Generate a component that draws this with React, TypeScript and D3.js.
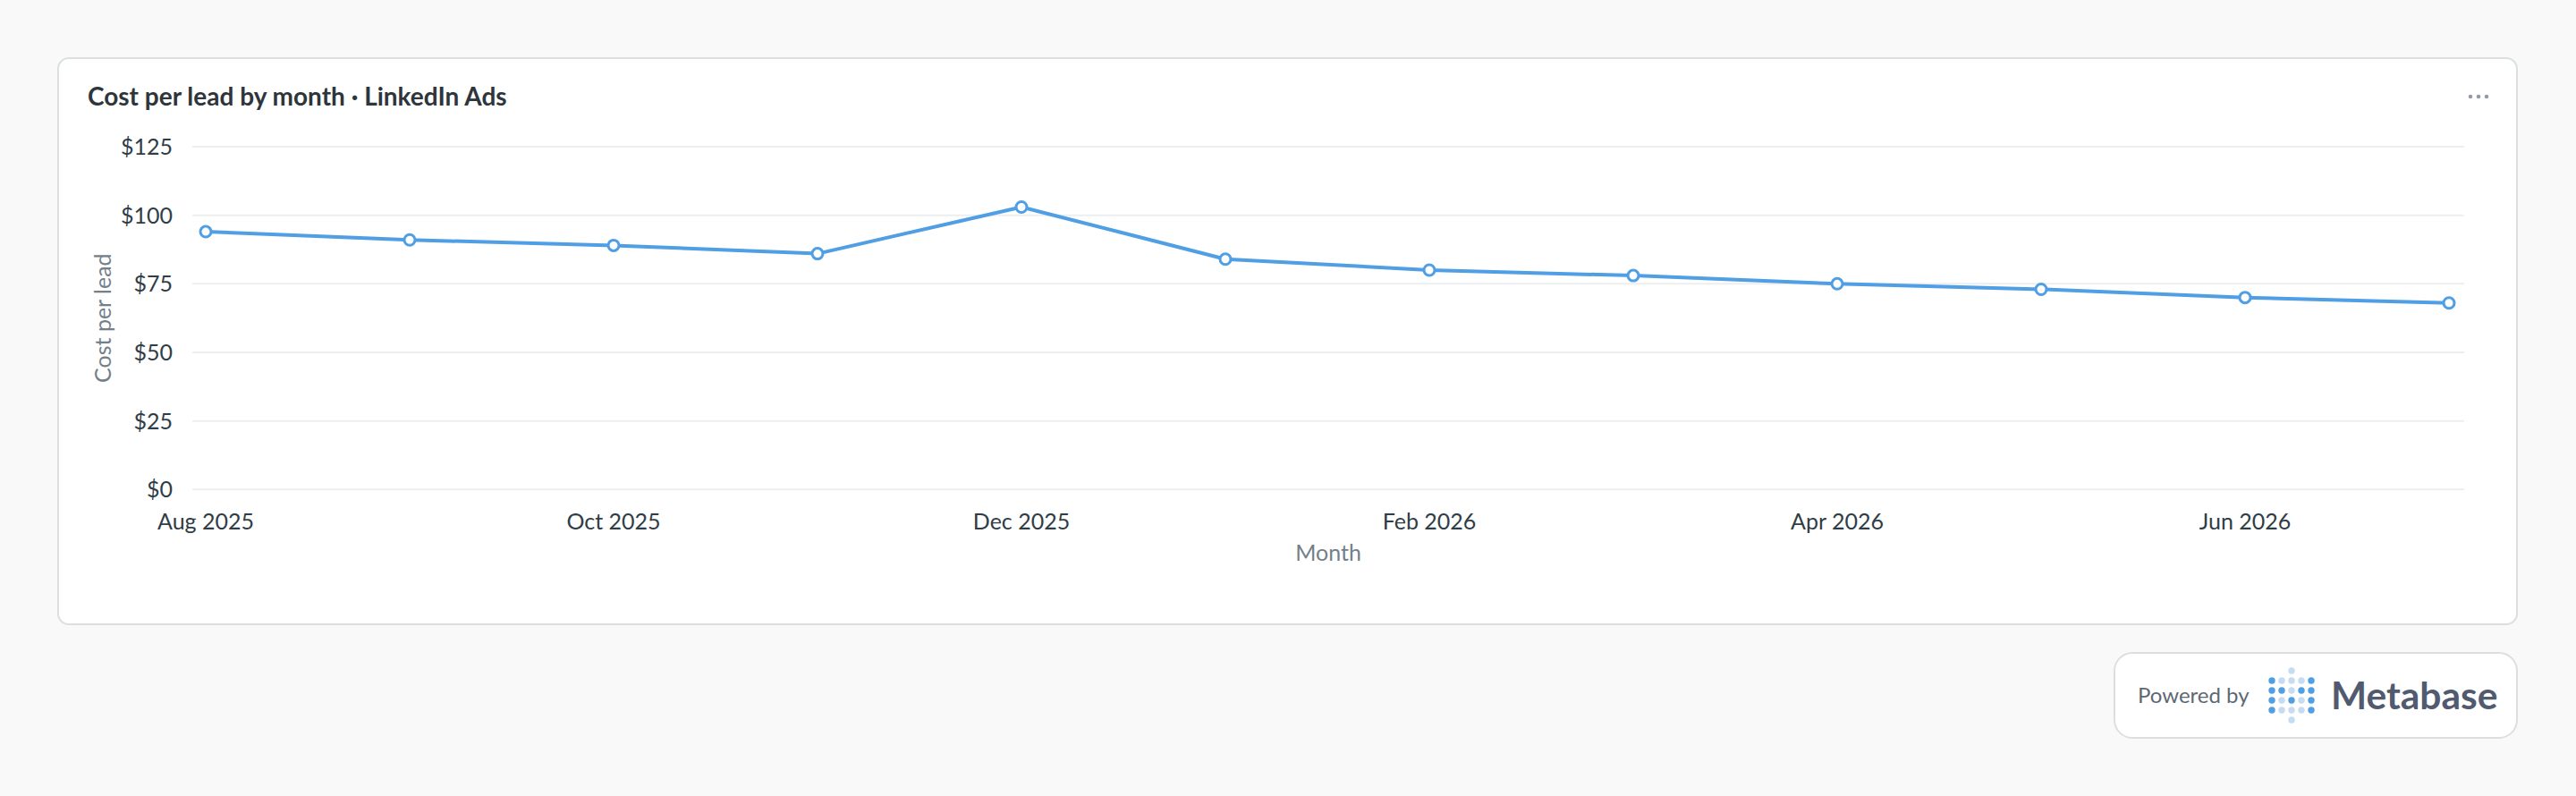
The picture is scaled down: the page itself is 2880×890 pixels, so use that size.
import React, { useRef, useEffect } from 'react';
import * as d3 from 'd3';

// Monthly cost per lead, LinkedIn Ads
const months = [
  'Aug 2025', 'Sep 2025', 'Oct 2025', 'Nov 2025', 'Dec 2025', 'Jan 2026',
  'Feb 2026', 'Mar 2026', 'Apr 2026', 'May 2026', 'Jun 2026', 'Jul 2026',
];
const costPerLead = [94, 91, 89, 86, 103, 84, 80, 78, 75, 73, 70, 68];
const xTickLabels = ['Aug 2025', 'Oct 2025', 'Dec 2025', 'Feb 2026', 'Apr 2026', 'Jun 2026'];
const yTickValues = [0, 25, 50, 75, 100, 125];

// Metabase logo dot grid: d = dark, l = light, . = empty
const logoRows = ['..l..', 'dllld', 'ddldd', 'dldld', 'dllld', '..l..'];

const FONT = 'Lato, "Noto Sans", sans-serif';
const BLUE = '#509EE3';

const App: React.FC = () => {
  const svgRef = useRef<SVGSVGElement>(null);

  useEffect(() => {
    if (!svgRef.current) return;
    const svg = d3.select(svgRef.current);
    svg.selectAll('*').remove();

    const width = 2880;
    const height = 890;
    const plot = { left: 215, right: 2755, top: 164, bottom: 547.3 };

    svg.append('rect').attr('width', width).attr('height', height).attr('fill', '#F9F9F9');

    // Card
    svg
      .append('rect')
      .attr('x', 65)
      .attr('y', 65)
      .attr('width', 2749)
      .attr('height', 633)
      .attr('rx', 12)
      .attr('fill', '#ffffff')
      .attr('stroke', '#DCDFE0')
      .attr('stroke-width', 2);

    svg
      .append('text')
      .attr('x', 98)
      .attr('y', 118)
      .attr('fill', '#2E353B')
      .style('font-family', FONT)
      .style('font-weight', 700)
      .style('font-size', '28px')
      .text('Cost per lead by month · LinkedIn Ads');

    // "more" dots
    [2762, 2771, 2780].forEach((cx) => {
      svg.append('circle').attr('cx', cx).attr('cy', 108).attr('r', 2.3).attr('fill', '#949AAB');
    });

    // Scales
    const xScale = d3.scalePoint<string>().domain(months).range([230, 2738]);
    const yScale = d3.scaleLinear().domain([0, 125]).range([plot.bottom, plot.top]);

    const g = svg.append('g');

    // Grid lines + y tick labels
    yTickValues.forEach((v) => {
      const y = yScale(v);
      g.append('line')
        .attr('x1', plot.left)
        .attr('x2', plot.right)
        .attr('y1', y)
        .attr('y2', y)
        .attr('stroke', '#EDEEF0')
        .attr('stroke-width', 2);
      g.append('text')
        .attr('x', 193)
        .attr('y', y)
        .attr('dy', '0.36em')
        .attr('text-anchor', 'end')
        .attr('fill', '#303D46')
        .style('font-family', FONT)
        .style('font-size', '25px')
        .text(d3.format('$,')(v));
    });

    // X tick labels
    xTickLabels.forEach((m) => {
      g.append('text')
        .attr('x', xScale(m)!)
        .attr('y', 592)
        .attr('text-anchor', 'middle')
        .attr('fill', '#303D46')
        .style('font-family', FONT)
        .style('font-size', '25px')
        .text(m);
    });

    // Axis titles
    g.append('text')
      .attr('transform', `translate(124,${(plot.top + plot.bottom) / 2}) rotate(-90)`)
      .attr('text-anchor', 'middle')
      .attr('fill', '#737F89')
      .style('font-family', FONT)
      .style('font-size', '25px')
      .text('Cost per lead');

    g.append('text')
      .attr('x', (plot.left + plot.right) / 2)
      .attr('y', 627)
      .attr('text-anchor', 'middle')
      .attr('fill', '#737F89')
      .style('font-family', FONT)
      .style('font-size', '25px')
      .text('Month');

    // Series line
    const points = months.map((m, i) => ({ m, v: costPerLead[i] }));
    const line = d3
      .line<{ m: string; v: number }>()
      .x((d) => xScale(d.m)!)
      .y((d) => yScale(d.v));

    g.append('path')
      .datum(points)
      .attr('d', line)
      .attr('fill', 'none')
      .attr('stroke', BLUE)
      .attr('stroke-width', 4)
      .attr('stroke-linejoin', 'round');

    g.selectAll('circle.pt')
      .data(points)
      .enter()
      .append('circle')
      .attr('class', 'pt')
      .attr('cx', (d) => xScale(d.m)!)
      .attr('cy', (d) => yScale(d.v))
      .attr('r', 6)
      .attr('fill', '#ffffff')
      .attr('stroke', BLUE)
      .attr('stroke-width', 3);

    // Powered by Metabase badge
    const badge = svg.append('g');
    badge
      .append('rect')
      .attr('x', 2364)
      .attr('y', 730)
      .attr('width', 450)
      .attr('height', 95)
      .attr('rx', 20)
      .attr('fill', '#ffffff')
      .attr('stroke', '#DCDFE0')
      .attr('stroke-width', 2);

    badge
      .append('text')
      .attr('x', 2390)
      .attr('y', 786)
      .attr('fill', '#5E6873')
      .style('font-family', FONT)
      .style('font-size', '24px')
      .text('Powered by');

    logoRows.forEach((row, r) => {
      row.split('').forEach((c, k) => {
        if (c === '.') return;
        badge
          .append('circle')
          .attr('cx', 2540 + k * 11)
          .attr('cy', 750 + r * 11)
          .attr('r', 3.7)
          .attr('fill', c === 'd' ? BLUE : '#C5DCF2');
      });
    });

    badge
      .append('text')
      .attr('x', 2606)
      .attr('y', 793)
      .attr('fill', '#515A6E')
      .style('font-family', FONT)
      .style('font-weight', 700)
      .style('font-size', '42.5px')
      .text('Metabase');
  }, []);

  return (
    <svg
      ref={svgRef}
      width={2880}
      height={890}
      style={{ position: 'absolute', left: 0, top: 0, display: 'block' }}
    />
  );
};

export default App;
